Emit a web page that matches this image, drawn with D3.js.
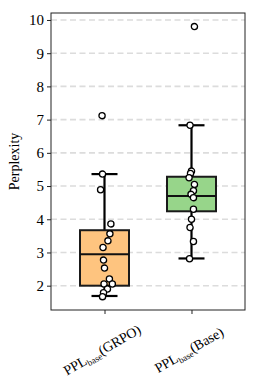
<!DOCTYPE html>
<html>
<head>
<meta charset="utf-8">
<script src="https://cdn.jsdelivr.net/npm/d3@7"></script>
<style>
  body { margin: 0; background: #fff; }
  svg { display: block; font-family: "Liberation Serif", "Times New Roman", serif; }
</style>
</head>
<body>
<svg id="chart" width="259" height="389"></svg>
<script>
const width = 259, height = 389;
const margin = { left: 51, right: 14, top: 13, bottom: 79 };

// categories and their colours
const categories = ["GRPO", "Base"];
const boxColors = ["#fec47f", "#97d58a"];

// box statistics: [low whisker, q1, median, q3, high whisker]
const grpoBox = [1.69, 2.0, 2.95, 3.67, 5.36];
const baseBox = [2.82, 4.24, 4.70, 5.28, 6.83];

// raw points (value) and their horizontal jitter (fraction of box width)
const grpoValues = [7.12, 5.36, 4.89, 3.86, 3.56, 3.35, 3.15, 2.77, 2.53, 2.20, 2.05, 2.05, 1.90, 1.79, 1.67];
const grpoJitter = [-0.05, -0.04, -0.08, 0.13, 0.11, 0.07, -0.03, -0.02, 0.0, 0.10, -0.01, 0.16, 0.06, -0.02, -0.04];
const baseValues = [9.80, 6.83, 5.45, 5.38, 5.25, 5.05, 4.86, 4.75, 4.65, 4.30, 4.00, 3.75, 3.33, 2.81];
const baseJitter = [0.06, -0.03, 0.0, -0.02, -0.05, 0.06, 0.04, -0.01, 0.04, 0.04, 0.0, -0.03, 0.04, -0.04];

const yTicks = [2, 3, 4, 5, 6, 7, 8, 9, 10];

const series = [
  { cat: "GRPO", box: grpoBox, values: grpoValues, jitter: grpoJitter, color: boxColors[0] },
  { cat: "Base", box: baseBox, values: baseValues, jitter: baseJitter, color: boxColors[1] }
];

const svg = d3.select('#chart');

const x = d3.scalePoint()
  .domain(categories)
  .range([margin.left, width - margin.right])
  .padding(0.615);

const y = d3.scaleLinear()
  .domain([1.268, 10.21])
  .range([height - margin.bottom, margin.top]);

const boxW = 49;
const capW = 26;

// grid lines
svg.append('g')
  .selectAll('line')
  .data(yTicks)
  .join('line')
  .attr('x1', margin.left)
  .attr('x2', width - margin.right)
  .attr('y1', d => y(d))
  .attr('y2', d => y(d))
  .attr('stroke', '#dcdcdc')
  .attr('stroke-width', 1.6)
  .attr('stroke-dasharray', '6,3.5');

// boxes
const groups = svg.append('g')
  .selectAll('g')
  .data(series)
  .join('g')
  .attr('transform', d => `translate(${x(d.cat)},0)`);

// whiskers
groups.append('line')
  .attr('x1', 0).attr('x2', 0)
  .attr('y1', d => y(d.box[0]))
  .attr('y2', d => y(d.box[4]))
  .attr('stroke', '#000')
  .attr('stroke-width', 2.2);

groups.selectAll('line.cap')
  .data(d => [d.box[0], d.box[4]])
  .join('line')
  .attr('class', 'cap')
  .attr('x1', -capW / 2).attr('x2', capW / 2)
  .attr('y1', d => y(d)).attr('y2', d => y(d))
  .attr('stroke', '#000')
  .attr('stroke-width', 2.2);

groups.append('rect')
  .attr('x', -boxW / 2)
  .attr('width', boxW)
  .attr('y', d => y(d.box[3]))
  .attr('height', d => y(d.box[1]) - y(d.box[3]))
  .attr('fill', d => d.color)
  .attr('stroke', '#1a1a1a')
  .attr('stroke-width', 2);

groups.append('line')
  .attr('x1', -boxW / 2).attr('x2', boxW / 2)
  .attr('y1', d => y(d.box[2])).attr('y2', d => y(d.box[2]))
  .attr('stroke', '#111')
  .attr('stroke-width', 2);

// points
groups.selectAll('circle')
  .data(d => d.values.map((v, i) => ({ v, j: d.jitter[i] })))
  .join('circle')
  .attr('cx', d => d.j * boxW)
  .attr('cy', d => y(d.v))
  .attr('r', 3.1)
  .attr('fill', '#fff')
  .attr('stroke', '#000')
  .attr('stroke-width', 1.3);

// frame
svg.append('rect')
  .attr('x', margin.left)
  .attr('y', margin.top)
  .attr('width', width - margin.left - margin.right)
  .attr('height', height - margin.top - margin.bottom)
  .attr('fill', 'none')
  .attr('stroke', '#222')
  .attr('stroke-width', 1);

// y axis
const yAxis = svg.append('g')
  .attr('transform', `translate(${margin.left},0)`)
  .call(d3.axisLeft(y).tickValues(yTicks).tickSize(4).tickPadding(3).tickFormat(d3.format('d')));
yAxis.select('.domain').remove();
yAxis.selectAll('text')
  .style('font-family', '"Liberation Serif", "Times New Roman", serif')
  .style('font-size', '15px')
  .attr('fill', '#000');
yAxis.selectAll('line').attr('stroke', '#222');

// x axis ticks
const xAxis = svg.append('g')
  .attr('transform', `translate(0,${height - margin.bottom})`)
  .call(d3.axisBottom(x).tickSize(4).tickFormat(''));
xAxis.select('.domain').remove();
xAxis.selectAll('line').attr('stroke', '#222');

// x labels: PPL_base(...)
const labels = svg.append('g')
  .selectAll('text')
  .data(categories)
  .join('text')
  .attr('transform', d => `translate(${x(d)},${height - margin.bottom + 44}) rotate(-30)`)
  .attr('text-anchor', 'middle')
  .style('font-size', '14px')
  .attr('fill', '#000');

labels.append('tspan').text('PPL');
labels.append('tspan').attr('dy', 3).style('font-size', '9px').text('base');
labels.append('tspan').attr('dy', -3).text(d => `(${d})`);

// y label
svg.append('text')
  .attr('transform', `translate(19,${(margin.top + height - margin.bottom) / 2}) rotate(-90)`)
  .attr('text-anchor', 'middle')
  .style('font-size', '14px')
  .attr('fill', '#000')
  .text('Perplexity');
</script>
</body>
</html>
